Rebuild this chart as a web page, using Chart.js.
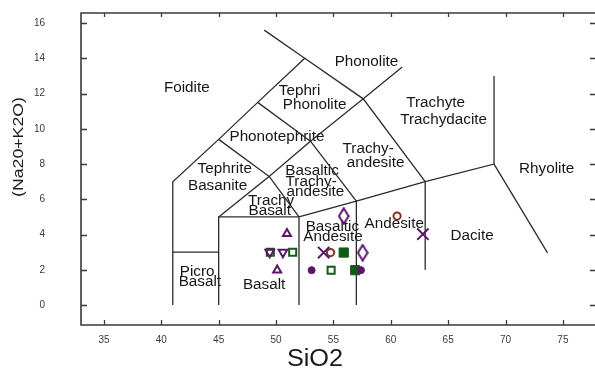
<!DOCTYPE html>
<html>
<head>
<meta charset="utf-8">
<script src="https://cdn.jsdelivr.net/npm/chart.js@4/dist/chart.umd.min.js"></script>
<style>
  html, body { margin: 0; padding: 0; background: #fff; }
  canvas { display: block; }
</style>
</head>
<body>
<canvas id="tas" width="595" height="370"></canvas>
<script>
// Total alkali vs silica (TAS) field boundaries, [SiO2, Na2O+K2O] in wt%
const foiditeEdge        = [[41, 0], [41, 7], [45, 9.4], [48.4, 11.5], [52.5, 14], [48.97, 15.6]];
const picroBasaltTop     = [[41, 3], [45, 3]];
const basaltField        = [[45, 0], [45, 5], [52, 5], [52, 0]];
const basalticAndesite   = [[52, 5], [57, 5.9], [57, 0]];
const andesiteTop        = [[57, 5.9], [63, 7], [63, 2]];
const daciteTop          = [[63, 7], [69, 8], [69, 13]];
const rhyoliteEdge       = [[69, 8], [73.66, 2.96]];
const trachybasaltTop    = [[45, 5], [49.4, 7.3], [52, 5]];
const phonotephriteBase  = [[45, 9.4], [49.4, 7.3], [53, 9.3], [57, 5.9]];
const tephriphonoliteBase = [[48.4, 11.5], [53, 9.3], [57.6, 11.7], [61, 13.5]];
const trachyteEdge       = [[52.5, 14], [57.6, 11.7], [63, 7]];

// Field names and where they sit in the diagram
const fieldLabels = [
  { text: 'Foidite',       x: 42.22, y: 12.28 },
  { text: 'Phonolite',     x: 57.88, y: 13.78 },
  { text: 'Tephri',        x: 52.05, y: 12.14 },
  { text: 'Phonolite',     x: 53.36, y: 11.33 },
  { text: 'Phonotephrite', x: 50.08, y: 9.50 },
  { text: 'Trachyte',      x: 63.91, y: 11.46 },
  { text: 'Trachydacite',  x: 64.61, y: 10.48 },
  { text: 'Trachy-',       x: 58.03, y: 8.82 },
  { text: 'andesite',      x: 58.67, y: 8.08 },
  { text: 'Tephrite',      x: 45.53, y: 7.74 },
  { text: 'Basanite',      x: 44.91, y: 6.74 },
  { text: 'Basaltic',      x: 53.14, y: 7.61 },
  { text: 'Trachy-',       x: 53.06, y: 6.99 },
  { text: 'andesite',      x: 53.43, y: 6.38 },
  { text: 'Trachy',        x: 49.57, y: 5.91 },
  { text: 'Basalt',        x: 49.45, y: 5.34 },
  { text: 'Rhyolite',      x: 73.58, y: 7.74 },
  { text: 'Dacite',        x: 67.08, y: 3.93 },
  { text: 'Andesite',      x: 60.30, y: 4.59 },
  { text: 'Basaltic',      x: 54.91, y: 4.44 },
  { text: 'Andesite',      x: 54.96, y: 3.84 },
  { text: 'Picro',         x: 43.12, y: 1.89 },
  { text: 'Basalt',        x: 43.36, y: 1.32 },
  { text: 'Basalt',        x: 48.96, y: 1.13 }
];

// Sample analyses, grouped by symbol
const diamondPts      = [[55.9, 5.05], [57.55, 2.97]];
const openCirclePts   = [[60.55, 5.05], [54.75, 2.98]];
const crossPts        = [[62.8, 4.02], [54.15, 2.98]];
const triUpPts        = [[50.95, 4.05], [50.1, 1.98]];
const triDownPts      = [[49.45, 3.0], [50.6, 3.0]];
const openSquarePts   = [[49.5, 3.0], [51.45, 3.0], [54.8, 1.98]];
const filledSquarePts = [[55.9, 2.98], [56.9, 1.98]];
const filledCirclePts = [[53.1, 1.98], [57.4, 1.98]];

// Axis ticks
const xTicks = [35, 40, 45, 50, 55, 60, 65, 70, 75];
const yTicks = [0, 2, 4, 6, 8, 10, 12, 14, 16];

const PURPLE = '#5a1769';
const GREEN = '#115c14';
const BROWN = '#8a3222';
const LINE = '#2b2b2b';
const FONT = '"Liberation Sans", Arial, Helvetica, sans-serif';

const toXY = pts => pts.map(([x, y]) => ({ x, y }));

// Tall open diamond symbol
function makeDiamond(color) {
  const c = document.createElement('canvas');
  c.width = 12; c.height = 18;
  const g = c.getContext('2d');
  g.strokeStyle = color;
  g.lineWidth = 2;
  g.beginPath();
  g.moveTo(6, 1.2);
  g.lineTo(10.8, 9);
  g.lineTo(6, 16.8);
  g.lineTo(1.2, 9);
  g.closePath();
  g.stroke();
  return c;
}

const boundaryLines = [
  foiditeEdge, picroBasaltTop, basaltField, basalticAndesite, andesiteTop, daciteTop,
  rhyoliteEdge, trachybasaltTop, phonotephriteBase, tephriphonoliteBase, trachyteEdge
].map(pts => ({
  data: toXY(pts),
  showLine: true,
  borderColor: LINE,
  borderWidth: 1.3,
  pointRadius: 0,
  tension: 0,
  fill: false,
  order: 20
}));

const sampleSets = [
  { data: toXY(openSquarePts), pointStyle: 'rect', pointRadius: 5, borderColor: GREEN, backgroundColor: 'rgba(0,0,0,0)', pointBorderWidth: 2, order: 9 },
  { data: toXY(filledSquarePts), pointStyle: 'rect', pointRadius: 6.5, borderColor: GREEN, backgroundColor: GREEN, pointBorderWidth: 1, order: 8 },
  { data: toXY(filledCirclePts), pointStyle: 'circle', pointRadius: 3.5, borderColor: PURPLE, backgroundColor: PURPLE, pointBorderWidth: 1, order: 7 },
  { data: toXY(openCirclePts), pointStyle: 'circle', pointRadius: 3.6, borderColor: BROWN, backgroundColor: 'rgba(0,0,0,0)', pointBorderWidth: 2, order: 6 },
  { data: toXY(triDownPts), pointStyle: 'triangle', rotation: 180, pointRadius: 5, borderColor: PURPLE, backgroundColor: 'rgba(0,0,0,0)', pointBorderWidth: 2, order: 5 },
  { data: toXY(triUpPts), pointStyle: 'triangle', pointRadius: 4.6, borderColor: PURPLE, backgroundColor: 'rgba(0,0,0,0)', pointBorderWidth: 2, order: 4 },
  { data: toXY(crossPts), pointStyle: 'crossRot', pointRadius: 8, borderColor: PURPLE, pointBorderWidth: 2, order: 3 },
  { data: toXY(diamondPts), pointStyle: makeDiamond(PURPLE), pointRadius: 9, order: 2 }
];

// Draw text stretched slightly along its own direction
function stretchedText(ctx, text, px, py, size, stretch, rotate) {
  ctx.save();
  ctx.translate(px, py);
  if (rotate) ctx.rotate(rotate);
  ctx.scale(stretch, 1);
  ctx.font = size + 'px ' + FONT;
  ctx.textAlign = 'center';
  ctx.textBaseline = 'middle';
  ctx.fillText(text, 0, 0);
  ctx.restore();
}

const tasDecor = {
  id: 'tasDecor',
  beforeDatasetsDraw(chart) {
    const { ctx, scales: { x, y } } = chart;
    ctx.save();
    ctx.fillStyle = '#161616';
    fieldLabels.forEach(l => {
      stretchedText(ctx, l.text, x.getPixelForValue(l.x), y.getPixelForValue(l.y), 14, 1.09);
    });
    ctx.restore();
  },
  afterDraw(chart) {
    const { ctx, chartArea: a, scales: { x, y } } = chart;
    ctx.save();
    // plot frame (open on the right where it leaves the canvas)
    ctx.strokeStyle = '#3a3a3a';
    ctx.lineWidth = 1.6;
    ctx.beginPath();
    ctx.moveTo(a.right + 2, a.top);
    ctx.lineTo(a.left, a.top);
    ctx.lineTo(a.left, a.bottom);
    ctx.lineTo(a.right + 2, a.bottom);
    ctx.stroke();
    // inward tick marks on all four sides
    ctx.lineWidth = 1.3;
    ctx.beginPath();
    x.ticks.forEach(t => {
      const px = Math.round(x.getPixelForValue(t.value)) + 0.5;
      ctx.moveTo(px, a.bottom); ctx.lineTo(px, a.bottom - 5);
      ctx.moveTo(px, a.top); ctx.lineTo(px, a.top + 4);
    });
    y.ticks.forEach(t => {
      const py = Math.round(y.getPixelForValue(t.value)) + 0.5;
      ctx.moveTo(a.left, py); ctx.lineTo(a.left + 6, py);
      ctx.moveTo(a.right, py); ctx.lineTo(a.right - 5, py);
    });
    ctx.stroke();
    // axis titles
    ctx.fillStyle = '#1a1a1a';
    stretchedText(ctx, 'SiO2', 315, 359.5, 23, 1.1);
    stretchedText(ctx, '(Na20+K2O)', 19, 147, 15, 1.18, -Math.PI / 2);
    ctx.restore();
  }
};

new Chart(document.getElementById('tas'), {
  type: 'scatter',
  data: { datasets: [...sampleSets, ...boundaryLines] },
  plugins: [tasDecor],
  options: {
    responsive: false,
    devicePixelRatio: 1,
    animation: false,
    layout: { autoPadding: false, padding: { top: 13, right: 0, bottom: 0, left: 0 } },
    plugins: { legend: { display: false }, tooltip: { enabled: false } },
    elements: { point: { hoverRadius: 0 } },
    scales: {
      x: {
        type: 'linear',
        min: 33,
        max: 77.8,
        grid: { display: false, drawTicks: false },
        border: { display: false },
        afterBuildTicks: s => { s.ticks = xTicks.map(v => ({ value: v })); },
        afterFit: s => { s.height = 45; s.paddingLeft = 0; s.paddingRight = 0; },
        ticks: {
          padding: 9,
          color: '#3a3a3a',
          font: { family: FONT, size: 10 },
          maxRotation: 0
        }
      },
      y: {
        type: 'linear',
        min: -1.13,
        max: 16.57,
        grid: { display: false, drawTicks: false },
        border: { display: false },
        afterBuildTicks: s => { s.ticks = yTicks.map(v => ({ value: v })); },
        afterFit: s => { s.width = 81; s.paddingTop = 0; s.paddingBottom = 0; },
        ticks: {
          padding: 36,
          color: '#3a3a3a',
          font: { family: FONT, size: 10 }
        }
      }
    }
  }
});
</script>
</body>
</html>
